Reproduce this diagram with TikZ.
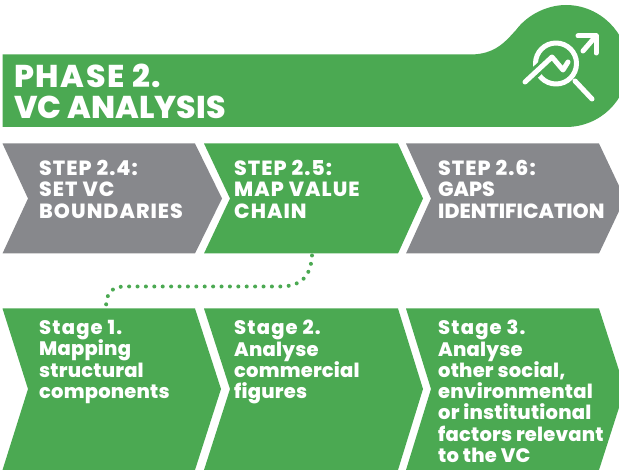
\documentclass[tikz,border=0pt]{standalone}
\usepackage{fontspec}
\setmainfont{Poppins}[BoldFont={Poppins ExtraBold}]
\newcommand{\widen}[2]{{\addfontfeature{LetterSpace=#1}#2}}
\definecolor{vcgreen}{HTML}{4BA952}
\definecolor{vcgrey}{HTML}{87888C}
\tikzset{
  chevgreen/.style={fill=vcgreen,draw=none},
  chevgrey/.style={fill=vcgrey,draw=none},
  steptext/.style={anchor=north west,inner sep=0pt,align=left,text=white,font=\bfseries\fontsize{20.5}{21.5}\selectfont},
  stagetext/.style={anchor=north west,inner sep=0pt,align=left,text=white,font=\bfseries\fontsize{19.5}{21.3}\selectfont},
  headtext/.style={anchor=north west,inner sep=0pt,align=left,text=white,font=\bfseries\fontsize{31.5}{31}\selectfont},
  iconline/.style={draw=white,line width=5pt,line cap=round,line join=round},
  dotline/.style={draw=vcgreen,line width=4pt,line cap=round,dash pattern=on 0pt off 8.4pt}
}
\begin{document}
\begin{tikzpicture}[x=1pt,y=-1pt]
\useasboundingbox (0,0) rectangle (619,470);
\clip (0,0) rectangle (619,470);
% header band
\fill[vcgreen] (2.5,54.5) -- (470,54.5) .. controls (495,54.5) and (505,42) .. (516,30)
  .. controls (528,14) and (548,5) .. (566,5) .. controls (600,5) and (628,33) .. (628,66)
  .. controls (628,100) and (600,127) .. (566,127) -- (2.5,127) -- cycle;
\node[headtext] (head) at (14,64) {\widen{5}{PHASE 2.}\\VC ANALYSIS};
% icon
\draw[iconline] (556,63.5) circle (20.5);
\draw[draw=vcgreen,line width=11pt,line cap=round,line join=round] (525,82) -- (552,57) -- (563,70) -- (568,62);
\draw[iconline] (525,82) -- (552,57) -- (563,70) -- (568,62);
\draw[iconline] (575,81) -- (592,99);
\draw[iconline] (578,36) -- (596,36) -- (596,53);
\draw[iconline] (583,51) -- (596,36);
% step row
\fill[chevgrey] (2.5,143.5) -- (195,143.5) -- (222,198.5) -- (195,253.5) -- (2.5,253.5) -- (28,198.5) -- cycle;
\fill[chevgreen] (204,143.5) -- (398,143.5) -- (423,198.5) -- (398,253.5) -- (204,253.5) -- (230,198.5) -- cycle;
\fill[chevgrey] (406,143.5) -- (599,143.5) -- (625,198.5) -- (599,253.5) -- (406,253.5) -- (431,198.5) -- cycle;
\node[steptext] (s24) at (39,160) {\widen{5}{STEP 2.4:}\\\widen{5}{SET VC}\\\widen{5}{BOUNDARIES}};
\node[steptext] (s25) at (234,160) {\widen{5}{STEP 2.5:}\\\widen{5}{MAP VALUE}\\\widen{5}{CHAIN}};
\node[steptext] (s26) at (438,160) {\widen{5}{STEP 2.6:}\\GAPS\\IDENTIFICATION};
% stage row
\fill[chevgreen] (2.5,308.5) -- (195,308.5) -- (221,389) -- (195,470) -- (2.5,470) -- (28,389) -- cycle;
\fill[chevgreen] (204,308.5) -- (398,308.5) -- (423,389) -- (398,470) -- (204,470) -- (230,389) -- cycle;
\fill[chevgreen] (406,308.5) -- (599,308.5) -- (625,389) -- (599,470) -- (406,470) -- (431,389) -- cycle;
\node[stagetext] (g1) at (39,320) {\widen{6}{Stage 1.}\\\widen{1}{Mapping}\\\widen{1}{structural}\\\widen{1}{components}};
\node[stagetext] (g2) at (234,320) {\widen{6}{Stage 2.}\\\widen{1}{Analyse}\\\widen{1}{commercial}\\\widen{1}{figures}};
\node[stagetext] (g3) at (438,320) {\widen{6}{Stage 3.}\\\widen{1}{Analyse}\\\widen{1}{other social,}\\\widen{1}{environmental}\\\widen{1}{or institutional}\\\widen{1}{factors relevant}\\\widen{1}{to the VC}};
% connector
\coordinate (fromstep) at (312,255.5);
\coordinate (tostage) at (106,308);
\draw[dotline] (fromstep) .. controls (311,272) and (305,286.5) .. (280,286.5) -- (125,286.5) .. controls (110,286.5) and (106,295) .. (tostage);
\end{tikzpicture}
\end{document}
